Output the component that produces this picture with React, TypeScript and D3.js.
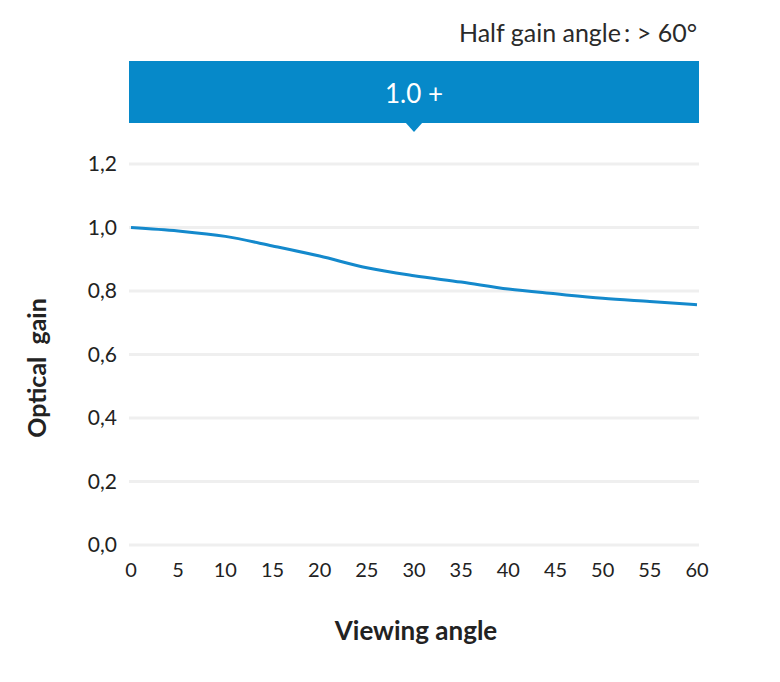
import React from 'react';
import * as d3 from 'd3';

// viewing angle (deg) vs optical gain
const angles = [0, 5, 10, 15, 20, 25, 30, 35, 40, 45, 50, 55, 60];
const gains = [1.0, 0.989, 0.972, 0.942, 0.91, 0.873, 0.848, 0.828, 0.806, 0.791, 0.777, 0.767, 0.757];
const yTicks = [0, 0.2, 0.4, 0.6, 0.8, 1.0, 1.2];
const xTicks = [0, 5, 10, 15, 20, 25, 30, 35, 40, 45, 50, 55, 60];
const bannerLabel = '1.0 +';
const halfGainLabel = 'Half gain angle\u2009: > 60°';

const width = 780;
const height = 682;
const font = 'Lato, "Open Sans", sans-serif';
const blue = '#0689c9';

const App: React.FC = () => {
    const x = d3.scaleLinear().domain([0, 60]).range([131, 697]);
    const y = d3.scaleLinear().domain([0, 1.2]).range([545, 164]);
    const fmt = (v: number) => d3.format('.1f')(v).replace('.', ',');

    const line = d3.line<number>()
        .x((_, i) => x(angles[i]))
        .y(d => y(d))
        .curve(d3.curveMonotoneX);

    const bannerMid = x(30);

    return (
        <svg width={width} height={height} style={{position: 'absolute', left: 0, top: 0}}>
            <rect width={width} height={height} fill="#fff"/>
            <text x={697} y={42} textAnchor="end" fontFamily={font} fontSize={25} fill="#2a2a2a">{halfGainLabel}</text>
            <rect x={129} y={61} width={570} height={62} fill={blue}/>
            <path d={`M${bannerMid - 9},122 L${bannerMid},132 L${bannerMid + 9},122 Z`} fill={blue}/>
            <text x={bannerMid} y={103} textAnchor="middle" fontFamily={font} fontSize={26} fill="#fff">{bannerLabel}</text>

            {yTicks.map(t => (
                <g key={t}>
                    <line x1={129} x2={699} y1={y(t)} y2={y(t)} stroke="#efefef" strokeWidth={3}/>
                    <text x={117} y={y(t) + 7} textAnchor="end" fontFamily={font} fontSize={21} fill="#222">{fmt(t)}</text>
                </g>
            ))}
            {xTicks.map(t => (
                <text key={t} x={x(t)} y={577} textAnchor="middle" fontFamily={font} fontSize={20} fill="#222">{t}</text>
            ))}

            <path d={line(gains) || ''} fill="none" stroke="#1489cc" strokeWidth={3}/>

            <text x={416} y={640} textAnchor="middle" fontFamily={font} fontSize={26} fontWeight="bold" fill="#222">Viewing angle</text>
            <text transform="translate(46,368) rotate(-90)" textAnchor="middle" fontFamily={font} fontSize={25} fontWeight="bold" fill="#222" style={{whiteSpace: 'pre'}}>{'Optical  gain'}</text>
        </svg>
    );
};

export default App;
